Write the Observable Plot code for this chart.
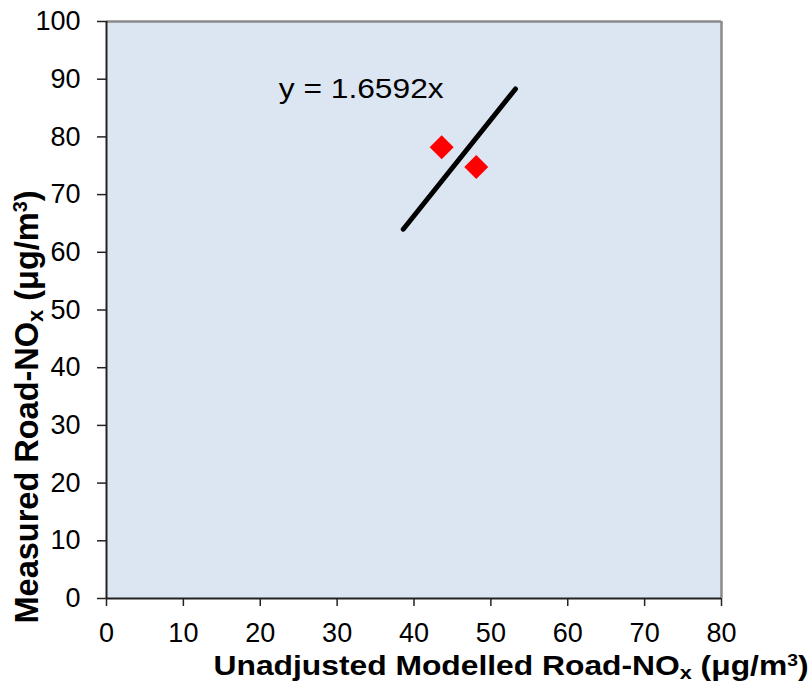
<!DOCTYPE html>
<html>
<head>
<meta charset="utf-8">
<script src="https://cdn.jsdelivr.net/npm/d3@7"></script>
<script src="https://cdn.jsdelivr.net/npm/@observablehq/plot@0.6"></script>
<style>
  html, body { margin: 0; padding: 0; background: white; }
</style>
</head>
<body>
<div id="chart"></div>
<script>
// Data
const xTicks = [0, 10, 20, 30, 40, 50, 60, 70, 80];
const yTicks = [0, 10, 20, 30, 40, 50, 60, 70, 80, 90, 100];
const pointX = [43.6, 48.1];
const pointY = [78.2, 74.8];
const fitX = [38.6, 53.2];
const fitY = [64.0, 88.3];
const eqText = ["y = 1.6592x"];
const eqX = [22.4];
const eqY = [88.2];

const points = pointX.map((x, i) => ({x, y: pointY[i]}));
const fit = fitX.map((x, i) => ({x, y: fitY[i]}));
const eq = eqText.map((t, i) => ({t, x: eqX[i], y: eqY[i]}));

const font = "'Liberation Sans', Arial, sans-serif";

const svg = Plot.plot({
  width: 811,
  height: 682,
  marginLeft: 106,
  marginRight: 90,
  marginTop: 21,
  marginBottom: 84,
  x: {domain: [0, 80]},
  y: {domain: [0, 100]},
  style: {fontFamily: font, fontSize: "27px", color: "black", background: "white"},
  marks: [
    Plot.frame({fill: "#dce6f2", stroke: "none"}),
    Plot.ruleY([100], {stroke: "#8a8a8a", strokeWidth: 2.5}),
    Plot.ruleX([80], {stroke: "#8a8a8a", strokeWidth: 2.5}),
    Plot.ruleX([0], {stroke: "#222", strokeWidth: 2}),
    Plot.ruleY([0], {stroke: "#222", strokeWidth: 2}),
    Plot.axisX({ticks: xTicks, tickSize: 8, tickPadding: 16, label: null, tickFormat: d => d, stroke: "#222", strokeWidth: 1.5}),
    Plot.axisY({ticks: yTicks, tickSize: 9, tickPadding: 17, label: null, tickFormat: d => d, stroke: "#222", strokeWidth: 1.5}),
    Plot.line(fit, {x: "x", y: "y", stroke: "black", strokeWidth: 5, strokeLinecap: "round"}),
    Plot.dot(points, {x: "x", y: "y", symbol: "diamond2", fill: "red", stroke: "none", r: 10.8}),
    Plot.text(eq, {x: "x", y: "y", text: "t", textAnchor: "start", lineAnchor: "middle", fontSize: 27, fill: "black"})
  ]
});

const s = d3.select(svg);
// equation stretch
s.selectAll("text").filter(function() { return this.textContent === "y = 1.6592x"; })
  .attr("textLength", 165).attr("lengthAdjust", "spacingAndGlyphs");

// X axis title
const xt = s.append("text")
  .attr("x", 511).attr("y", 675)
  .attr("text-anchor", "middle")
  .attr("font-family", font).attr("font-weight", "bold").attr("font-size", 28)
  .attr("fill", "black");
xt.append("tspan").text("Unadjusted Modelled Road-NO");
xt.append("tspan").attr("dy", 4).attr("font-size", 19).text("x");
xt.append("tspan").attr("dy", -4).text(" (\u03bcg/m");
xt.append("tspan").attr("dy", -9).attr("font-size", 17).text("3");
xt.append("tspan").attr("dy", 9).text(")");
xt.attr("textLength", 595).attr("lengthAdjust", "spacingAndGlyphs");

// Y axis title
const yt = s.append("text")
  .attr("transform", "translate(38,407) rotate(-90)")
  .attr("text-anchor", "middle")
  .attr("font-family", font).attr("font-weight", "bold").attr("font-size", 33)
  .attr("fill", "black");
yt.append("tspan").text("Measured Road-NO");
yt.append("tspan").attr("dy", 5).attr("font-size", 22).text("x");
yt.append("tspan").attr("dy", -5).text(" (\u03bcg/m");
yt.append("tspan").attr("dy", -11).attr("font-size", 20).text("3");
yt.append("tspan").attr("dy", 11).text(")");
yt.attr("textLength", 433).attr("lengthAdjust", "spacingAndGlyphs");

document.getElementById("chart").appendChild(svg);
</script>
</body>
</html>
